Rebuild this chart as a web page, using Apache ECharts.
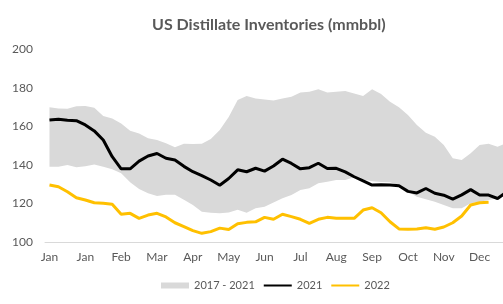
<!DOCTYPE html>
<html>
<head>
<meta charset="utf-8">
<script src="https://cdn.jsdelivr.net/npm/echarts@6/dist/echarts.min.js"></script>
<style>
  html, body { margin: 0; padding: 0; background: #fff; }
  #chart { width: 503px; height: 304px; }
</style>
</head>
<body>
<div id="chart"></div>
<script>
// tick labels, one every 4 weeks
const monthLabels = ['Jan', 'Jan', 'Feb', 'Mar', 'Apr', 'May', 'Jun', 'Jul', 'Aug', 'Sep', 'Oct', 'Nov', 'Dec']

// 2017-2021 range (weekly)
const rangeHigh = [170, 169.4, 169.2, 170.5, 170.7, 169.8, 165.5, 164.2, 161.6, 157.8, 156.4, 153.9, 153, 151.3, 149.2, 151,
  150.9, 151, 153.5, 158.2, 165, 173.8, 175.8, 174.6, 174, 173.5, 174.5, 175.5, 177.6, 178, 179.3, 177.6, 178, 178.5,
  177.2, 175.8, 179.3, 176.9, 172.9, 170, 166, 160.8, 156.8, 154.7, 150.4, 143.5, 142.6, 146.1, 150.4, 151, 149.5, 151.3]
const rangeLow = [139.1, 139.1, 140, 138.8, 139.3, 140.2, 139.1, 137.8, 135.7, 131, 127.5, 125.3, 123.9, 124.5, 124.5, 122,
  119.2, 115.7, 115.2, 114.9, 115.3, 116.8, 115.2, 117.5, 118.3, 120.5, 122.7, 124.4, 127, 127.9, 130.5, 131.3, 132.2,
  132.2, 133.6, 132.5, 131.5, 131.2, 131, 129.5, 126.1, 123.5, 122.2, 120.9, 119.2, 117.5, 117.5, 120.1, 120.9, 121.8,
  122.7, 124.4]

// 2021
const y2021 = [163.4, 163.8, 163.2, 163, 160.8, 157.7, 153, 144.3, 138, 138, 142, 144.7, 146, 143.5, 142.6, 139.3, 136.5,
  134.5, 132.2, 129.5, 133, 137.5, 136.5, 138.3, 136.8, 139.5, 143, 140.8, 138, 138.6, 140.9, 138.2, 138.3, 136.4, 133.9,
  131.8, 129.6, 129.7, 129.6, 129.2, 126.3, 125.5, 127.8, 125.3, 124.3, 122.3, 124.5, 127.2, 124.4, 124.4, 122.6, 126]

// 2022 (to early Dec)
const y2022 = [129.6, 128.7, 126.1, 123, 121.8, 120.4, 120.1, 119.6, 114.4, 114.9, 112.3, 114, 114.9, 113, 110, 108, 105.9,
  104.5, 105.4, 107.2, 106.5, 109.5, 110.2, 110.5, 112.8, 111.8, 114.4, 113.2, 111.8, 109.7, 111.8, 112.8, 112.3, 112.3,
  112.3, 116.6, 117.8, 115.2, 110.5, 106.8, 106.6, 106.8, 107.4, 106.6, 107.8, 110, 113.5, 119.2, 120.4, 120.6]

const weeks = rangeHigh.map((_, i) => 'W' + (i + 1))
const rangeSpan = rangeHigh.map((v, i) => +(v - rangeLow[i]).toFixed(1))

const font = 'Lato, "Open Sans", sans-serif'
const grey = '#595959'

const chart = echarts.init(document.getElementById('chart'))

const option = {
  animation: false,
  textStyle: { fontFamily: font },
  title: {
    text: 'US Distillate Inventories (mmbbl)',
    left: 147,
    top: 12,
    textStyle: { fontSize: 16, fontWeight: 'bold', color: grey, fontFamily: font }
  },
  legend: {
    bottom: 8,
    left: 156,
    itemWidth: 28,
    itemHeight: 6,
    itemGap: 8,
    textStyle: { fontSize: 11, color: grey, fontFamily: font },
    data: [
      { name: '2017 - 2021', icon: 'rect' },
      { name: '2021', itemStyle: { opacity: 0 } },
      { name: '2022', itemStyle: { opacity: 0 } }
    ]
  },
  // plot runs past the right edge, as in the source image
  grid: { left: 45, width: 466, top: 49.5, bottom: 62, outerBoundsMode: 'none' },
  xAxis: {
    type: 'category',
    data: weeks,
    boundaryGap: true,
    axisLine: { lineStyle: { color: '#d9d9d9', width: 1 } },
    axisTick: { interval: 3, length: 4, lineStyle: { color: '#bfbfbf' } },
    axisLabel: {
      interval: 3,
      margin: 9,
      fontSize: 12,
      color: grey,
      formatter: (val, idx) => monthLabels[Math.floor(idx / 4)] || ''
    },
    splitLine: { show: false }
  },
  yAxis: {
    type: 'value',
    min: 100,
    max: 200,
    interval: 20,
    axisLine: { show: false },
    axisTick: { show: false },
    splitLine: { show: false },
    axisLabel: { fontSize: 12, color: grey, margin: 12 }
  },
  series: [
    {
      name: 'low',
      type: 'line',
      stack: 'band',
      data: rangeLow,
      symbol: 'none',
      lineStyle: { opacity: 0 },
      silent: true,
      z: 1
    },
    {
      name: '2017 - 2021',
      type: 'line',
      stack: 'band',
      data: rangeSpan,
      symbol: 'none',
      itemStyle: { color: '#d9d9d9' },
      lineStyle: { width: 0, opacity: 0 },
      areaStyle: { color: '#d9d9d9', opacity: 1 },
      silent: true,
      z: 1
    },
    {
      name: '2021',
      type: 'line',
      data: y2021,
      symbol: 'none',
      itemStyle: { color: '#000000' },
      lineStyle: { color: '#000000', width: 3 },
      z: 3
    },
    {
      name: '2022',
      type: 'line',
      data: y2022,
      symbol: 'none',
      itemStyle: { color: '#ffc000' },
      lineStyle: { color: '#ffc000', width: 3 },
      z: 2
    }
  ]
}

chart.setOption(option)
</script>
</body>
</html>
